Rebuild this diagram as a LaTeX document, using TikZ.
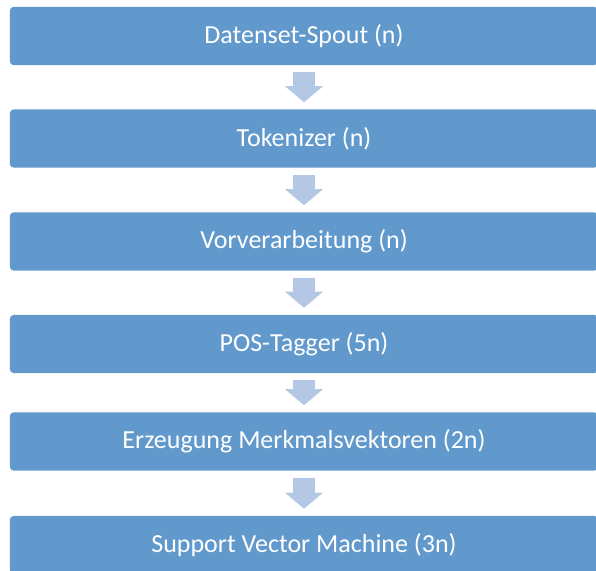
\documentclass[tikz,border=0pt]{standalone}
\usepackage{fontspec}
\setmainfont{Carlito}
\usetikzlibrary{arrows.meta}

\definecolor{stufenblau}{HTML}{6199CC}
\definecolor{pfeilblau}{HTML}{B4C8E6}

\begin{document}
\begin{tikzpicture}[x=0.025cm,y=-0.025cm,
	stufe/.style={fill=stufenblau,text=white,rounded corners=2.5pt,minimum width=14.7cm,minimum height=1.45cm,inner sep=0pt,font=\fontsize{18.5}{22}\selectfont},
	pfeil/.style={draw=pfeilblau,line width=0.55cm,-{Triangle[width=0.95cm,length=0.4cm,line width=0pt]},shorten <=0.175cm,shorten >=0.175cm}]

	\clip (0,0) rectangle (596,570);

	% Stufen
	\node (spout) at (304,36) [stufe] {Datenset-Spout (n)};
	\node (token) at (304,138.5) [stufe] {Tokenizer (n)};
	\node (vorv) at (304,241.5) [stufe] {Vorverarbeitung (n)};
	\node (pos) at (304,344) [stufe] {POS-Tagger (5n)};
	\node (merkmal) at (304,441.5) [stufe] {Erzeugung Merkmalsvektoren (2n)};
	\node (svm) at (304,545) [stufe] {Support Vector Machine (3n)};

	% Pfeile
	\draw[pfeil] (spout) -- (token);
	\draw[pfeil] (token) -- (vorv);
	\draw[pfeil] (vorv) -- (pos);
	\draw[pfeil] (pos) -- (merkmal);
	\draw[pfeil] (merkmal) -- (svm);

\end{tikzpicture}
\end{document}
